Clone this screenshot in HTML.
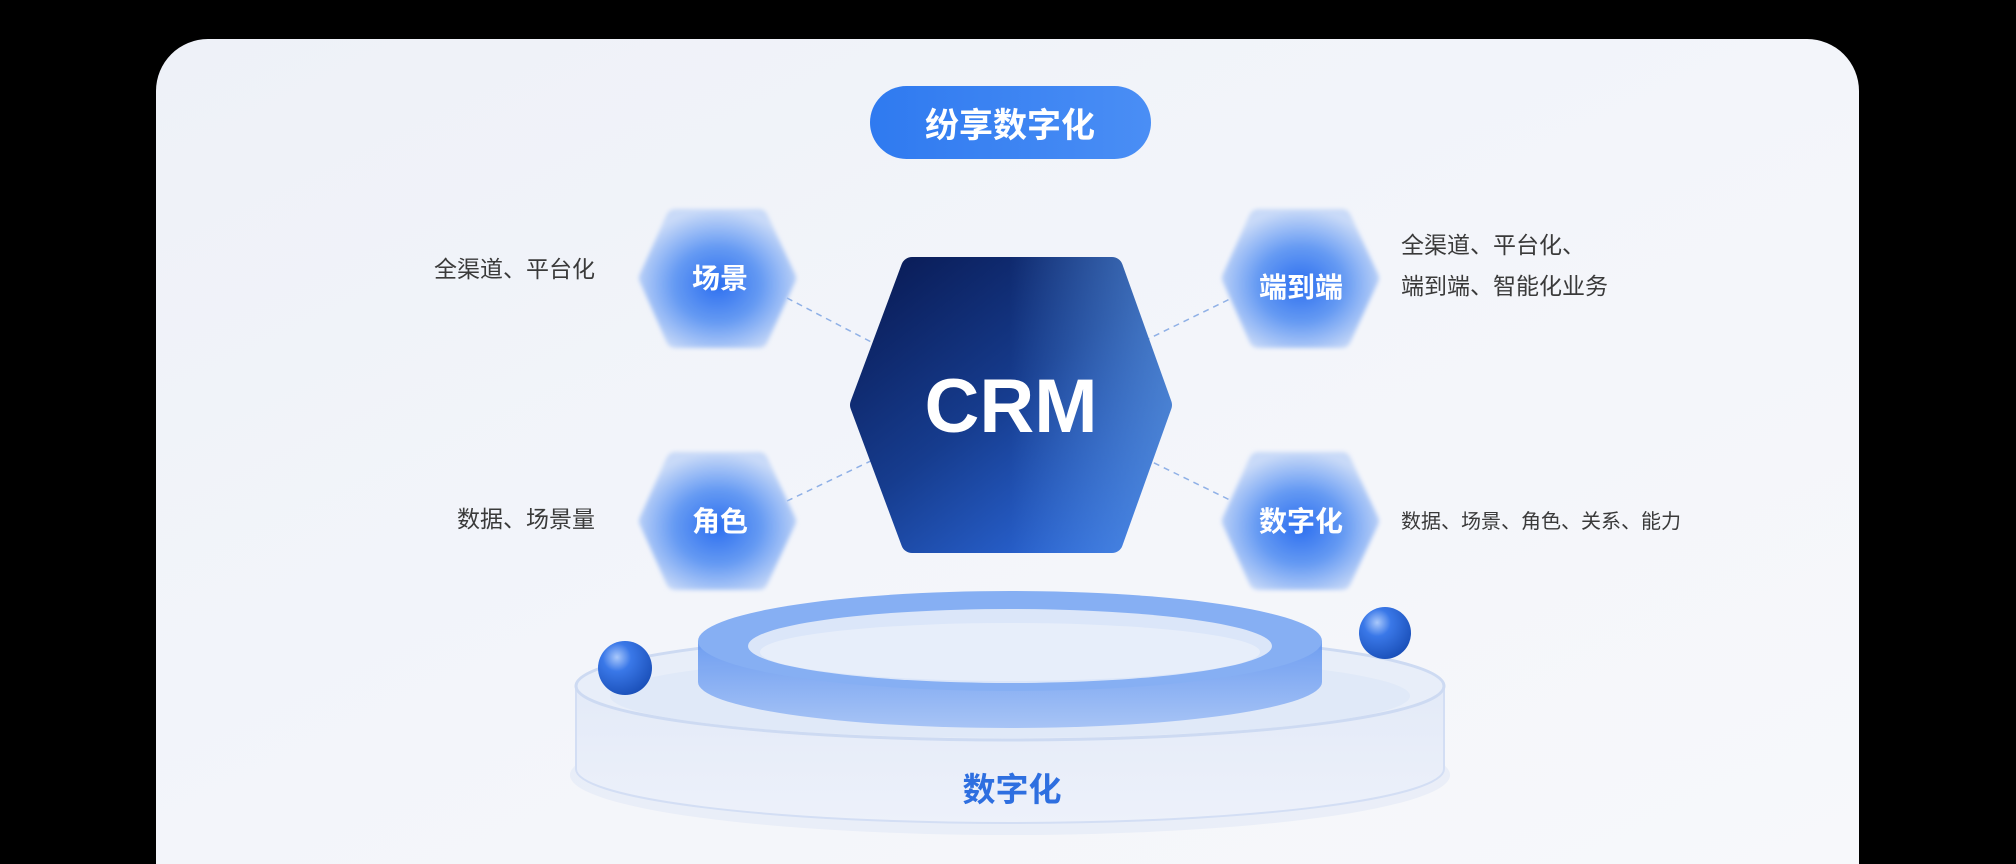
<!DOCTYPE html>
<html><head><meta charset="utf-8"><style>
html,body{margin:0;padding:0;background:#000;width:2016px;height:864px;overflow:hidden;}
body{position:relative;font-family:"Liberation Sans","Noto Sans CJK SC",sans-serif;}
svg{position:absolute;left:0;top:0;display:block;}
</style></head><body>
<svg width="2016" height="864" viewBox="0 0 2016 864" xmlns="http://www.w3.org/2000/svg">
<defs>
<linearGradient id="bg" x1="0" y1="0" x2="1" y2="1">
<stop offset="0" stop-color="#eef1f8"/><stop offset="0.5" stop-color="#f3f5fa"/><stop offset="1" stop-color="#f7f8fb"/>
</linearGradient>
<linearGradient id="pill" x1="0" y1="0" x2="1" y2="0">
<stop offset="0" stop-color="#2f7af0"/><stop offset="1" stop-color="#4a8ef5"/>
</linearGradient>
<linearGradient id="crm" gradientUnits="userSpaceOnUse" x1="900" y1="270" x2="1120" y2="560">
<stop offset="0" stop-color="#0b1f5c"/><stop offset="0.45" stop-color="#163c8e"/><stop offset="1" stop-color="#2f6fe6"/>
</linearGradient>
<linearGradient id="crmR" gradientUnits="userSpaceOnUse" x1="1010" y1="0" x2="1175" y2="0">
<stop offset="0" stop-color="#5b94dc" stop-opacity="0"/><stop offset="1" stop-color="#5b94dc" stop-opacity="0.7"/>
</linearGradient>
<mask id="crmMask" maskUnits="userSpaceOnUse" x="0" y="0" width="2016" height="864">
<polygon points="912,268 1112,268 1161,405 1112,542 912,542 861,405" fill="#fff" stroke="#fff" stroke-width="22" stroke-linejoin="round"/>
</mask>
<radialGradient id="hx" cx="0.5" cy="0.55" r="0.62">
<stop offset="0" stop-color="#2d6ff0"/><stop offset="0.5" stop-color="#659af3"/><stop offset="1" stop-color="#c9daf8"/>
</radialGradient>
<linearGradient id="baseSide" x1="0" y1="0" x2="0" y2="1">
<stop offset="0" stop-color="#e3eaf8"/><stop offset="1" stop-color="#edf1fa"/>
</linearGradient>
<linearGradient id="discSide" x1="0" y1="0" x2="0" y2="1">
<stop offset="0" stop-color="#5a90ef"/><stop offset="1" stop-color="#9dbdf5"/>
</linearGradient>
<radialGradient id="ball" cx="0.35" cy="0.3" r="0.75">
<stop offset="0" stop-color="#a9c8fb"/><stop offset="0.35" stop-color="#3a78e8"/><stop offset="1" stop-color="#1a4fb8"/>
</radialGradient>
<filter id="soft" x="-10%" y="-10%" width="120%" height="120%"><feGaussianBlur stdDeviation="2"/></filter>
</defs>
<path d="M156,91 A52,52 0 0 1 208,39 L1807,39 A52,52 0 0 1 1859,91 L1859,864 L156,864 Z" fill="url(#bg)"/>
<!-- pill -->
<rect x="870" y="86" width="281" height="73" rx="36.5" fill="url(#pill)"/>
<text x="1010" y="137" text-anchor="middle" font-size="34" font-weight="bold" fill="#fff">纷享数字化</text>
<!-- dashed lines -->
<g stroke="#8fb0e6" stroke-width="1.5" stroke-dasharray="6 5" fill="none">
<line x1="787" y1="298" x2="877" y2="345"/>
<line x1="1144" y1="341" x2="1232" y2="298"/>
<line x1="787" y1="501" x2="877" y2="458"/>
<line x1="1144" y1="458" x2="1232" y2="501"/>
</g>
<!-- small hexes -->
<g stroke-linejoin="round" stroke-width="18" filter="url(#soft)">
<polygon points="675,218 759,218 787,278 759,339 675,339 648,278" fill="url(#hx)" stroke="url(#hx)"/>
<polygon points="675,461 759,461 787,521 759,581 675,581 648,521" fill="url(#hx)" stroke="url(#hx)"/>
<polygon points="1258,218 1342,218 1370,278 1342,339 1258,339 1231,278" fill="url(#hx)" stroke="url(#hx)"/>
<polygon points="1258,461 1342,461 1370,521 1342,581 1258,581 1231,521" fill="url(#hx)" stroke="url(#hx)"/>
</g>
<g font-size="28" font-weight="bold" fill="#fff" text-anchor="middle">
<text x="720" y="288">场景</text>
<text x="720" y="531">角色</text>
<text x="1301" y="297">端到端</text>
<text x="1301" y="531">数字化</text>
</g>
<!-- CRM hex -->
<g mask="url(#crmMask)">
<rect x="840" y="250" width="340" height="310" fill="url(#crm)"/>
<rect x="840" y="250" width="340" height="310" fill="url(#crmR)"/>
</g>
<text x="1011" y="432" text-anchor="middle" font-size="76" font-weight="bold" fill="#fff">CRM</text>
<!-- side labels -->
<g font-size="23" fill="#3a3a3a">
<text x="595" y="277" text-anchor="end">全渠道、平台化</text>
<text x="595" y="527" text-anchor="end">数据、场景量</text>
<text x="1401" y="253">全渠道、平台化、</text>
<text x="1401" y="294">端到端、智能化业务</text>
<text x="1401" y="528" font-size="20">数据、场景、角色、关系、能力</text>
</g>
<!-- podium base -->
<ellipse cx="1010" cy="775" rx="440" ry="60" fill="#dde5f5" opacity="0.5"/>
<path d="M576,686 L576,769 A434,54 0 0 0 1444,769 L1444,686 Z" fill="url(#baseSide)" stroke="#d3def4" stroke-width="2"/>
<ellipse cx="1010" cy="686" rx="434" ry="54" fill="#e8eef9" stroke="#cddaf2" stroke-width="3"/>
<ellipse cx="1010" cy="696" rx="400" ry="42" fill="#dde7f8" opacity="0.8"/>
<!-- upper disc -->
<path d="M698,641 L698,682 A312,46 0 0 0 1322,682 L1322,641 Z" fill="url(#discSide)" opacity="0.85"/>
<ellipse cx="1010" cy="641" rx="312" ry="50" fill="#86aff3"/>
<ellipse cx="1010" cy="646" rx="262" ry="37" fill="#dbe6f9"/>
<ellipse cx="1010" cy="652" rx="250" ry="29" fill="#e7eefa"/>
<!-- spheres -->
<circle cx="625" cy="668" r="27" fill="url(#ball)"/>
<circle cx="1385" cy="633" r="26" fill="url(#ball)"/>
<text x="1012" y="801" text-anchor="middle" font-size="33" font-weight="bold" fill="#2e6fe0">数字化</text>
</svg>
</body></html>
